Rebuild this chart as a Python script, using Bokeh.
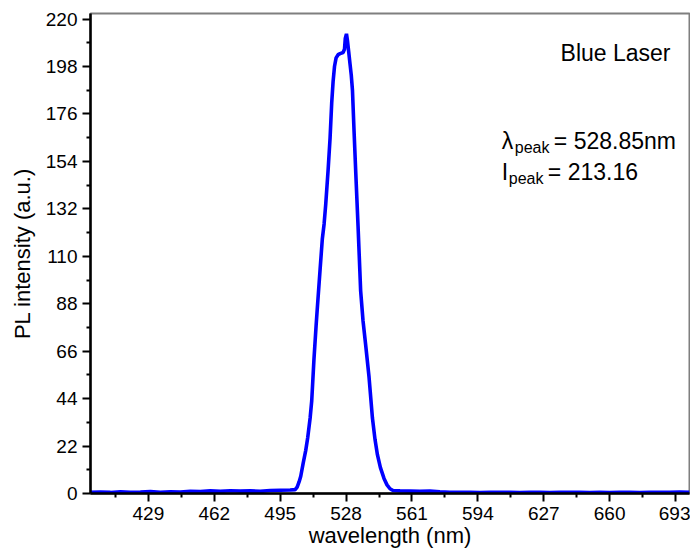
from bokeh.plotting import figure
from bokeh.models import FixedTicker, Label, Range1d
from bokeh.embed import file_html
from bokeh.resources import INLINE

# ---- data ----
wavelength = [400, 405, 410, 415, 420, 425, 430, 435, 440, 445,
              450, 455, 460, 465, 470, 475, 480, 485, 490, 495,
              500.0, 502.5, 503.5, 504.5, 505.3, 506.5, 507.8, 508.8, 510.0, 510.8,
              511.9, 513.0, 513.6, 515.0, 516.1, 517.0, 517.8, 519.0, 520.0, 520.8,
              521.5, 522.2, 523.0, 524.0, 525.0, 526.5, 527.2, 527.6, 528.2, 528.7,
              529.3, 530.0, 530.6, 531.2, 532.0, 532.8, 534.0, 535.3, 536.5, 537.8,
              539.5, 541.2, 542.5, 543.7, 545.2, 547.0, 548.5, 550.0, 551.5,
              555, 560, 565, 570, 575, 580, 585, 590, 595, 600,
              605, 610, 615, 620, 625, 630, 635, 640, 645, 650,
              655, 660, 665, 670, 675, 680, 685, 690, 695, 700]
intensity = [0.6, 0.7, 0.5, 0.8, 0.6, 0.7, 0.9, 0.6, 0.8, 0.7,
             1.0, 0.9, 1.2, 1.0, 1.3, 1.1, 1.2, 1.0, 1.4, 1.5,
             1.6, 1.8, 3.0, 5.5, 8.0, 14.0, 20.0, 26.0, 35.0, 43.0,
             62.0, 78.0, 86.0, 104.0, 118.0, 125.0, 134.0, 150.0, 165.0, 181.0,
             191.0, 198.0, 202.0, 203.5, 204.0, 204.5, 206.0, 211.0, 213.16, 210.0,
             205.0, 199.0, 194.0, 187.0, 168.0, 150.0, 124.0, 94.0, 80.0, 69.0,
             54.0, 35.0, 25.0, 18.0, 12.0, 7.0, 4.0, 2.2, 1.4,
             1.2, 1.1, 1.0, 1.1, 0.8, 0.6, 0.5, 0.6, 0.4, 0.5,
             0.6, 0.5, 0.4, 0.5, 0.6, 0.4, 0.5, 0.6, 0.5, 0.4,
             0.5, 0.4, 0.6, 0.5, 0.4, 0.5, 0.6, 0.5, 0.7, 0.6]

x_ticks = [429, 462, 495, 528, 561, 594, 627, 660, 693]
x_minor = [412.5, 445.5, 478.5, 511.5, 544.5, 577.5, 610.5, 643.5, 676.5]
y_ticks = [0, 22, 44, 66, 88, 110, 132, 154, 176, 198, 220]
y_minor = [11, 33, 55, 77, 99, 121, 143, 165, 187, 209]

title_text = "Blue Laser"
peak_wl = "528.85nm"
peak_int = "213.16"

FONT = "Liberation Sans"

p = figure(width=690, height=552, output_backend="svg", toolbar_location=None,
           x_range=Range1d(400, 700), y_range=Range1d(0, 222.6),
           min_border_left=90, min_border_right=1, min_border_top=13,
           min_border_bottom=59)

p.line(wavelength, intensity, line_color="#0000ff", line_width=3.6)

p.xgrid.visible = False
p.ygrid.visible = False
p.outline_line_color = "#7f7f7f"
p.outline_line_width = 2
p.background_fill_color = "white"
p.border_fill_color = "white"

for ax, ticks, minor in ((p.xaxis[0], x_ticks, x_minor), (p.yaxis[0], y_ticks, y_minor)):
    ax.ticker = FixedTicker(ticks=ticks, minor_ticks=minor)
    ax.axis_line_color = "black"
    ax.axis_line_width = 2.5
    ax.major_tick_line_color = "black"
    ax.major_tick_line_width = 2
    ax.minor_tick_line_color = "black"
    ax.minor_tick_line_width = 2
    ax.major_tick_in = 0
    ax.major_tick_out = 8
    ax.minor_tick_in = 0
    ax.minor_tick_out = 4
    ax.major_label_text_font = FONT
    ax.major_label_text_font_size = "19px"
    ax.major_label_text_color = "black"
    ax.axis_label_text_font = FONT
    ax.axis_label_text_font_size = "22px"
    ax.axis_label_text_font_style = "normal"
    ax.axis_label_text_color = "black"

p.xaxis.axis_label = "wavelength (nm)"
p.yaxis.axis_label = "PL intensity (a.u.)"
p.xaxis.major_label_standoff = 5
p.xaxis.axis_label_standoff = 0
p.yaxis.major_label_standoff = 5
p.yaxis.axis_label_standoff = 8

p.add_layout(Label(x=690.5, y=204.5, text=title_text, text_align="right",
                   text_baseline="alphabetic", text_font=FONT,
                   text_font_size="23px", text_color="black"))

lx = 606.0
ly1 = 163.3
ly2 = 149.0
common = dict(text_baseline="alphabetic", text_font=FONT, text_color="black")
p.add_layout(Label(x=lx, y=ly1, text="λ", text_font_size="23px", **common))
p.add_layout(Label(x=lx, y=ly1, x_offset=13, y_offset=-6, text="peak",
                   text_font_size="16px", **common))
p.add_layout(Label(x=lx, y=ly1, x_offset=52, text="= " + peak_wl,
                   text_font_size="23px", **common))
p.add_layout(Label(x=lx, y=ly2, text="I", text_font_size="23px", **common))
p.add_layout(Label(x=lx, y=ly2, x_offset=7, y_offset=-6, text="peak",
                   text_font_size="16px", **common))
p.add_layout(Label(x=lx, y=ly2, x_offset=46, text="= " + peak_int,
                   text_font_size="23px", **common))

open("out.html", "w").write(file_html(p, INLINE))
